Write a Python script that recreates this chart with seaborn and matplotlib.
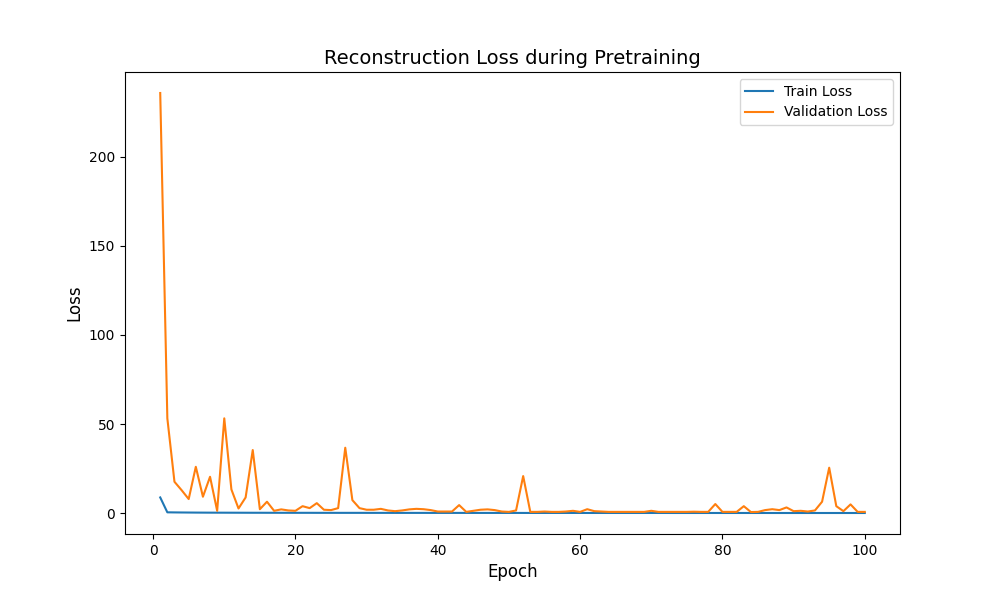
import pandas as pd
import seaborn as sns
import matplotlib.pyplot as plt

# per-epoch losses
epochs = list(range(1, 101))

train_loss = [8.8, 0.45, 0.40, 0.36, 0.33, 0.30, 0.28, 0.26, 0.25, 0.24,
              0.23, 0.22, 0.21, 0.20, 0.20, 0.19, 0.19, 0.18, 0.18, 0.17,
              0.17, 0.17, 0.16, 0.16, 0.16, 0.15, 0.15, 0.15, 0.15, 0.14,
              0.14, 0.14, 0.14, 0.13, 0.13, 0.13, 0.13, 0.13, 0.12, 0.12,
              0.12, 0.12, 0.12, 0.12, 0.11, 0.11, 0.11, 0.11, 0.11, 0.11,
              0.11, 0.10, 0.10, 0.10, 0.10, 0.10, 0.10, 0.10, 0.10, 0.10,
              0.09, 0.09, 0.09, 0.09, 0.09, 0.09, 0.09, 0.09, 0.09, 0.09,
              0.09, 0.09, 0.08, 0.08, 0.08, 0.08, 0.08, 0.08, 0.08, 0.08,
              0.08, 0.08, 0.08, 0.08, 0.08, 0.08, 0.07, 0.07, 0.07, 0.07,
              0.07, 0.07, 0.07, 0.07, 0.07, 0.07, 0.07, 0.07, 0.07, 0.07]

val_loss = [235.8, 53.2, 17.6, 12.9, 7.9, 26.0, 9.2, 20.4, 1.3, 53.2,
            13.3, 2.6, 8.8, 35.4, 2.2, 6.4, 1.3, 2.1, 1.5, 1.3,
            3.9, 2.8, 5.6, 1.9, 1.7, 2.8, 36.7, 7.3, 2.8, 1.9,
            1.9, 2.4, 1.5, 1.1, 1.5, 2.1, 2.4, 2.2, 1.7, 0.9,
            0.9, 0.9, 4.5, 0.7, 1.3, 1.9, 2.1, 1.7, 0.9, 0.7,
            1.5, 20.8, 0.7, 0.7, 0.9, 0.7, 0.7, 0.9, 1.3, 0.7,
            2.2, 1.1, 0.9, 0.7, 0.7, 0.7, 0.7, 0.7, 0.7, 1.3,
            0.7, 0.7, 0.7, 0.7, 0.7, 0.8, 0.7, 0.7, 5.1, 0.7,
            0.7, 0.7, 3.9, 0.6, 0.7, 1.7, 2.2, 1.7, 3.2, 1.1,
            1.3, 0.9, 1.5, 6.4, 25.5, 3.9, 1.1, 4.9, 0.7, 0.7]

df = pd.DataFrame({'Epoch': epochs, 'Train': train_loss, 'Validation': val_loss})

plt.figure(figsize=(10, 6), dpi=100)
sns.lineplot(data=df, x='Epoch', y='Train', label='Train Loss', color='tab:blue')
sns.lineplot(data=df, x='Epoch', y='Validation', label='Validation Loss', color='tab:orange')
plt.title('Reconstruction Loss during Pretraining', fontsize=14)
plt.xlabel('Epoch', fontsize=12)
plt.ylabel('Loss', fontsize=12)
plt.legend(loc='upper right')
plt.savefig('out.png', dpi=100)
